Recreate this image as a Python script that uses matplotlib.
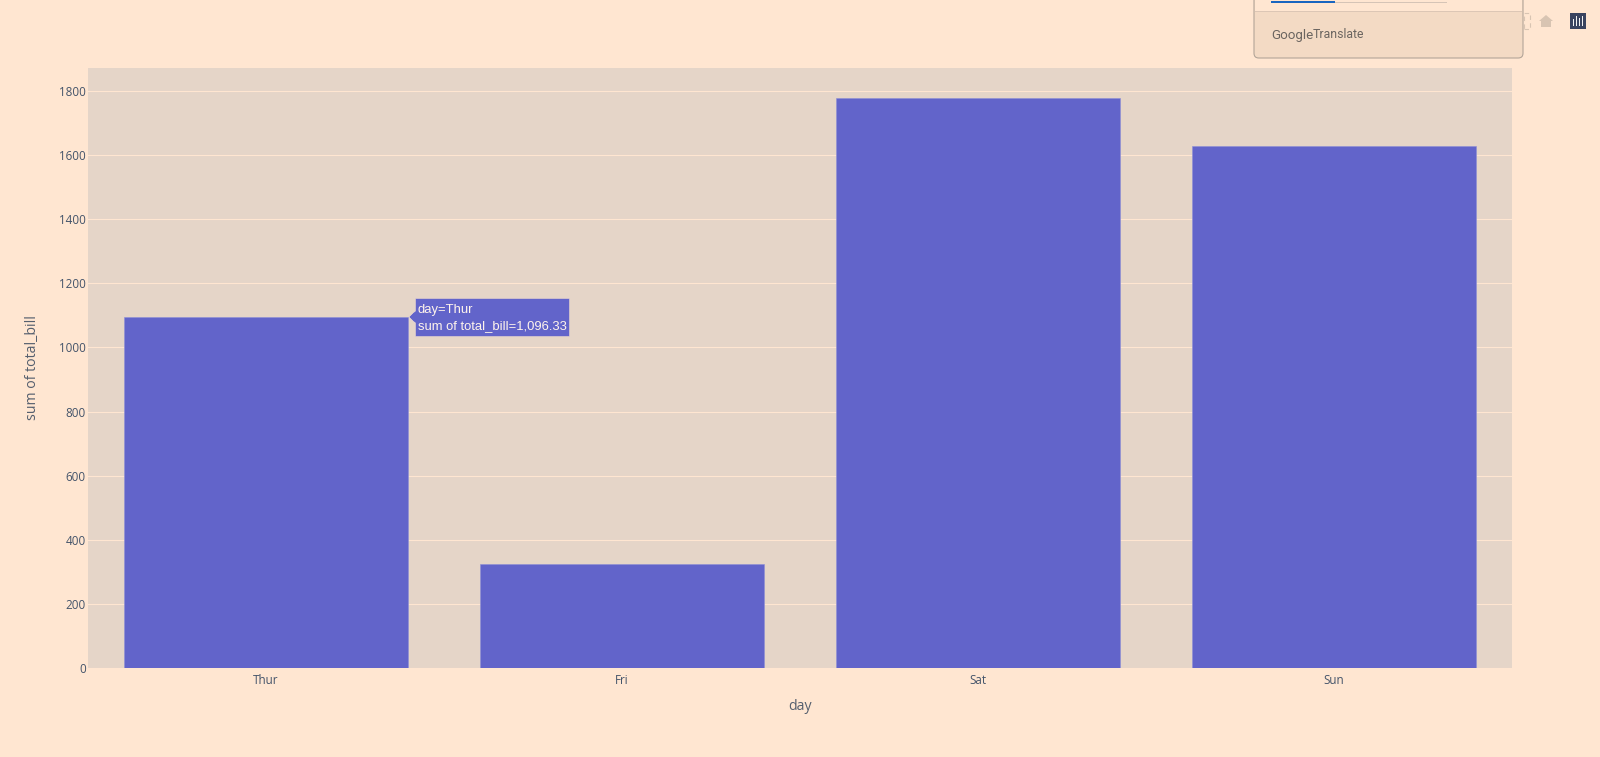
#!/usr/bin/env python3
import matplotlib
matplotlib.use('Agg')
import matplotlib.pyplot as plt
from matplotlib.patches import FancyBboxPatch, Polygon, Rectangle

days = ['Thur', 'Fri', 'Sat', 'Sun']
total_bill = [1096.33, 325.88, 1778.4, 1627.16]
y_ticks = [0, 200, 400, 600, 800, 1000, 1200, 1400, 1600, 1800]

PAGE = '#FFE6D1'
PLOT_BG = '#E5D5C8'
BAR = '#6264CA'
TEXT = '#44546A'
W, H = 1600, 757

plt.rcParams['font.family'] = ['Open Sans', 'DejaVu Sans']

fig = plt.figure(figsize=(16, 7.57), dpi=100, facecolor=PAGE)
ax = fig.add_axes([88 / W, 1 - 668 / H, 1424 / W, 600 / H], facecolor=PLOT_BG)

# Bars
ax.bar(days, total_bill, width=0.8, color=BAR, edgecolor='#8C8ED6', linewidth=0.4, zorder=3)
ax.set_xlim(-0.5, 3.5)
ax.set_ylim(0, 1872)

# Grid and ticks
ax.set_yticks(y_ticks)
ax.grid(True, axis='y', color=PAGE, linewidth=0.8, zorder=1)
ax.set_axisbelow(True)
ax.tick_params(axis='both', length=0, labelsize=8.4, labelcolor=TEXT)
ax.tick_params(axis='y', pad=1.5)
ax.tick_params(axis='x', pad=4)
for spine in ax.spines.values():
    spine.set_visible(False)

# Labels
fig.text(800 / W, 1 - 706 / H, 'day', fontsize=10.2, color='#555F6E', ha='center', va='center')
fig.text(32 / W, 1 - 368 / H, 'sum of total_bill', fontsize=10.2, color='#555F6E',
         ha='center', va='center', rotation=90)

# Hover label next to the Thur bar
fig.add_artist(Polygon([[409 / W, 1 - 317 / H], [415 / W, 1 - 311 / H], [415 / W, 1 - 323 / H]],
                       transform=fig.transFigure, facecolor=BAR, edgecolor='#F1DDD6', linewidth=0.4))
fig.add_artist(Rectangle((415 / W, 1 - 336 / H), 154 / W, 38 / H, transform=fig.transFigure,
                         facecolor=BAR, edgecolor='#EBD9D0', linewidth=0.4))
fig.add_artist(Polygon([[410 / W, 1 - 317 / H], [416 / W, 1 - 311 / H], [416 / W, 1 - 323 / H]],
                       transform=fig.transFigure, facecolor=BAR, edgecolor='none'))
fig.text(418 / W, 1 - 309.5 / H, 'day=Thur', fontsize=9.4, color='#FFF4EC', va='center',
         family=['Liberation Sans'])
fig.text(418 / W, 1 - 326 / H, 'sum of total_bill=1,096.33', fontsize=9.4, color='#FFF4EC',
         va='center', family=['Liberation Sans'])

# Translate popup cut off by the top of the page
fig.add_artist(FancyBboxPatch((1254 / W, 1 - 58 / H), 269 / W, 80 / H, transform=fig.transFigure,
                              boxstyle='round,pad=0,rounding_size=0.003', mutation_aspect=2.1,
                              facecolor='#F3DAC4', edgecolor='#B3A598', linewidth=0.8, zorder=5))
fig.add_artist(Rectangle((1255 / W, 1 - 11 / H), 267 / W, 11 / H, transform=fig.transFigure,
                         facecolor=PAGE, edgecolor='none', zorder=6))
fig.add_artist(Rectangle((1255 / W, 1 - 12 / H), 267 / W, 1 / H, transform=fig.transFigure,
                         facecolor='#DCC6B5', edgecolor='none', zorder=6))
fig.add_artist(Rectangle((1271 / W, 1 - 3 / H), 176 / W, 1 / H, transform=fig.transFigure,
                         facecolor='#D6C4B6', edgecolor='none', zorder=7))
fig.add_artist(Rectangle((1271 / W, 1 - 3 / H), 64 / W, 2 / H, transform=fig.transFigure,
                         facecolor='#1A66C0', edgecolor='none', zorder=7))
fig.text(1271 / W, 1 - 35 / H, 'Google', fontsize=9.6, color='#6B6560', va='center', zorder=8,
         family=['Roboto'])
fig.text(1313 / W, 1 - 35 / H, 'Translate', fontsize=8.8, color='#6B6560', va='center', zorder=8,
         family=['Roboto'])

# Toolbar icons at the top right
icon = '#D8C4B2'
fig.add_artist(Rectangle((1524 / W, 1 - 29 / H), 6 / W, 16 / H, transform=fig.transFigure,
                         facecolor='none', edgecolor=icon, linewidth=0.8, linestyle=(0, (4, 3))))
fig.add_artist(Polygon([[1539 / W, 1 - 21 / H], [1546 / W, 1 - 15 / H], [1553 / W, 1 - 21 / H],
                        [1551 / W, 1 - 21 / H], [1551 / W, 1 - 27 / H], [1541 / W, 1 - 27 / H],
                        [1541 / W, 1 - 21 / H]],
                       transform=fig.transFigure, facecolor=icon, edgecolor='none'))
fig.add_artist(Rectangle((1570 / W, 1 - 29 / H), 16 / W, 16 / H, transform=fig.transFigure,
                         facecolor='#3A4460', edgecolor='none'))
for bar_x, bar_h in zip([1573, 1576, 1579, 1582], [7, 10, 8, 10]):
    fig.add_artist(Rectangle((bar_x / W, 1 - 26 / H), 1.4 / W, bar_h / H, transform=fig.transFigure,
                             facecolor='#F2F2F2', edgecolor='none', zorder=3))

fig.savefig('out.png', dpi=100, facecolor=PAGE)
